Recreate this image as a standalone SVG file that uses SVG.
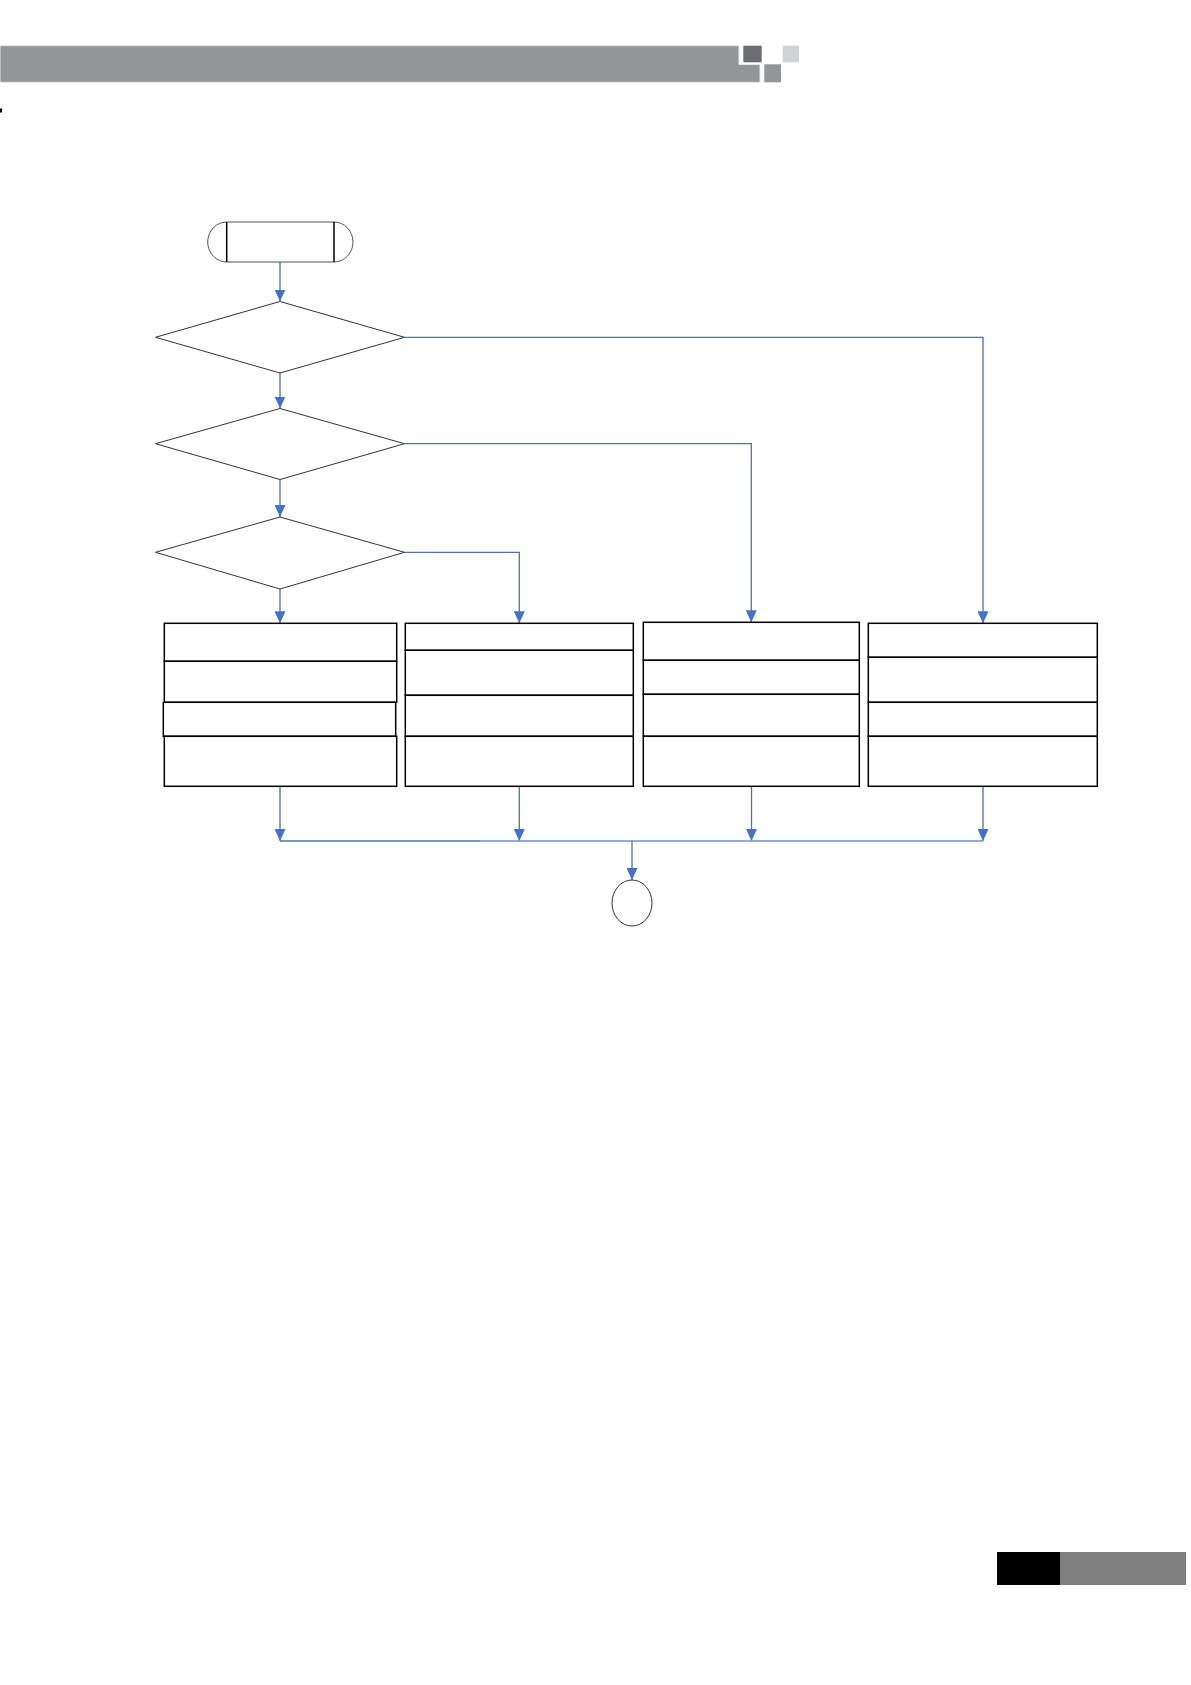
<svg xmlns="http://www.w3.org/2000/svg" width="1191" height="1685" viewBox="0 0 1191 1685">
<style>
.box{fill:#fff;stroke:#000;stroke-width:1.5}
.dia{fill:#fff;stroke:#333;stroke-width:1}
.con{fill:none;stroke:#4a72ab;stroke-width:1.3}
.bus{fill:none;stroke:#6f95c9;stroke-width:1.3}
</style>
<defs>
<marker id="ah" viewBox="0 0 12 11" refX="12" refY="5.5" markerWidth="12" markerHeight="11" markerUnits="userSpaceOnUse" orient="auto">
<path d="M0,0 L12,5.5 L0,11 Z" fill="#4472c4"/>
</marker>
</defs>
<rect width="1191" height="1685" fill="#fff"/>
<g id="header">
<path d="M0,45.7 H739 V64.5 H760 V82.3 H0 Z" fill="#939598" stroke="#e6e6e7" stroke-width="1"/>
<rect x="743.3" y="45.7" width="18.4" height="16.6" fill="#6d6e71"/>
<rect x="764.3" y="64.3" width="16.7" height="18" fill="#939598"/>
<rect x="782.7" y="45.7" width="16.3" height="16.6" fill="#d1d2d4"/>
<rect x="0" y="108.5" width="2" height="4" fill="#000"/>
</g>
<g id="footer">
<rect x="997" y="1552" width="63" height="33" fill="#000"/>
<rect x="1060" y="1552" width="126" height="33" fill="#808080"/>
</g>
<g id="connectors">
<path class="con" d="M280,262 V301.5" marker-end="url(#ah)"/>
<path class="con" d="M280,373 V408.5" marker-end="url(#ah)"/>
<path class="con" d="M280,479.5 V517" marker-end="url(#ah)"/>
<path class="con" d="M280,589 V623.3" marker-end="url(#ah)"/>
<path class="con" d="M404.5,337.3 H983 V623.3" marker-end="url(#ah)"/>
<path class="con" d="M404.5,443.7 H751.3 V622.3" marker-end="url(#ah)"/>
<path class="con" d="M404.5,552.3 H519.3 V623.3" marker-end="url(#ah)"/>
<path class="con" d="M280,786.3 V841" marker-end="url(#ah)"/>
<path class="con" d="M519.3,786.3 V841" marker-end="url(#ah)"/>
<path class="con" d="M751.5,786.3 V841" marker-end="url(#ah)"/>
<path class="con" d="M983,786.3 V841" marker-end="url(#ah)"/>
<path class="con" d="M280,841 H480"/>
<path class="bus" d="M480,841 H983"/>
<path class="con" d="M632,841 V880" marker-end="url(#ah)"/>
</g>
<g id="start">
<path d="M226.7,222 H334 A19,20 0 0 1 334,262 H226.7 A19,20 0 0 1 226.7,222 Z" fill="#fff" stroke="#555" stroke-width="1"/>
<line x1="226.7" y1="222" x2="226.7" y2="262" stroke="#000" stroke-width="1.5"/>
<line x1="334" y1="222" x2="334" y2="262" stroke="#000" stroke-width="1.5"/>
</g>
<g id="decision1"><polygon class="dia" points="280,301.5 404.5,337.3 280,373 155.5,337.3"/></g>
<g id="decision2"><polygon class="dia" points="280,408.5 404.5,443.7 280,479.5 155.5,443.7"/></g>
<g id="decision3"><polygon class="dia" points="280,517 404.5,552.3 280,589 155.5,552.3"/></g>
<g id="process1">
<rect class="box" x="164.3" y="623.3" width="232.4" height="38"/>
<rect class="box" x="164.3" y="661.3" width="232.4" height="41"/>
<rect class="box" x="163.3" y="702.3" width="232.4" height="34"/>
<rect class="box" x="164.3" y="736.3" width="232.4" height="50"/>
</g>
<g id="process2">
<rect class="box" x="405.3" y="623.3" width="228" height="27"/>
<rect class="box" x="405.3" y="650.3" width="228" height="45"/>
<rect class="box" x="405.3" y="695.3" width="228" height="41"/>
<rect class="box" x="405.3" y="736.3" width="228" height="50"/>
</g>
<g id="process3">
<rect class="box" x="643.3" y="622.3" width="216" height="38"/>
<rect class="box" x="643.3" y="660.3" width="216" height="34"/>
<rect class="box" x="643.3" y="694.3" width="216" height="42"/>
<rect class="box" x="643.3" y="736.3" width="216" height="50"/>
</g>
<g id="process4">
<rect class="box" x="868.3" y="623.3" width="229" height="34"/>
<rect class="box" x="868.3" y="657.3" width="229" height="45"/>
<rect class="box" x="868.3" y="702.3" width="229" height="34"/>
<rect class="box" x="868.3" y="736.3" width="229" height="50"/>
</g>
<g id="end">
<ellipse cx="632" cy="903" rx="20" ry="23" fill="#fff" stroke="#333" stroke-width="1"/>
</g>
</svg>
